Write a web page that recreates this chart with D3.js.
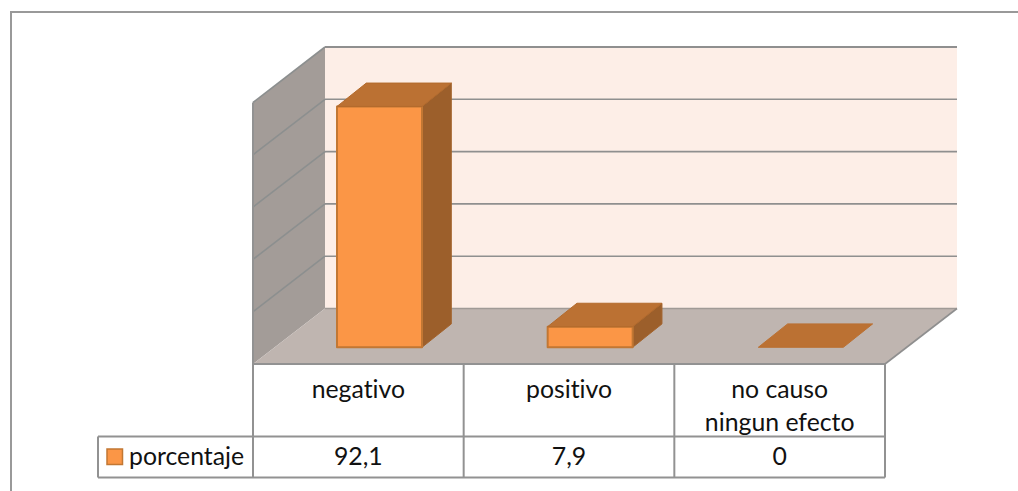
<!DOCTYPE html>
<html><head><meta charset="utf-8">
<script src="https://cdnjs.cloudflare.com/ajax/libs/d3/7.8.5/d3.min.js"></script>
<style>html,body{margin:0;background:#fff}svg{display:block}text{font-family:Lato,"Open Sans",sans-serif;font-size:24.8px;font-variant-ligatures:none;fill:#111}</style>
</head><body><div id="c"></div>
<script>
const categories = [["negativo"],["positivo"],["no causo","ningun efecto"]];
const seriesName = "porcentaje";
const values = [92.1,7.9,0];
const valueLabels = ["92,1","7,9","0"];
const yTicks = [0,20,40,60,80,100];

const W=1018,H=491;
const svg=d3.select("#c").append("svg").attr("width",W).attr("height",H);
const grey="#929292";
const depth={x:72,y:-55.5}, barDepth={x:29.3,y:-23.4};
const x=d3.scaleBand().domain(d3.range(categories.length)).range([253,885]).paddingInner(0).paddingOuter(0);
const y=d3.scaleLinear().domain([0,100]).range([364,102.5]);
const barInset=84, barW=85, barBase=16.7;
const pts=a=>a.map(p=>p.join(",")).join(" ");
const poly=(a,f,s,sw)=>svg.append("polygon").attr("points",pts(a)).attr("fill",f).attr("stroke",s||"none").attr("stroke-width",sw||0).attr("stroke-linejoin","round");
const line=(x1,y1,x2,y2,s,sw)=>svg.append("line").attr("x1",x1).attr("y1",y1).attr("x2",x2).attr("y2",y2).attr("stroke",s||grey).attr("stroke-width",sw||2);

// chart frame: only top and left edges show in the crop
svg.append("path").attr("d",`M11,${H} V12 H${W}`).attr("fill","none").attr("stroke","#999").attr("stroke-width",2);

const xL=253,xR=885,y0=y(0),yT=y(100);
poly([[xL+depth.x,yT+depth.y],[xR+depth.x,yT+depth.y],[xR+depth.x,y0+depth.y],[xL+depth.x,y0+depth.y]],"#fdeee7");
poly([[xL,yT],[xL+depth.x,yT+depth.y],[xL+depth.x,y0+depth.y],[xL,y0]],"#a39c98");
poly([[xL,y0],[xL+depth.x,y0+depth.y],[xR+depth.x,y0+depth.y],[xR,y0]],"#bfb5b0");
yTicks.forEach(t=>{
  const py=y(t);
  if(t>0) line(xL,py,xL+depth.x,py+depth.y,"#8c8f8f",1.6);
  line(xL+depth.x,py+depth.y,xR+depth.x,py+depth.y,t===0?"#a09a96":"#8f8f8f",t===100?2:1.6);
});
line(xL,yT,xL,y0,grey,2);
line(xR,y0,xR+depth.x,y0+depth.y,"#8f8f8f",1.6);

values.forEach((v,i)=>{
  const l=x(i)+barInset, r=l+barW, b=y0-barBase, t=b-(y0-y(v));
  const dx=barDepth.x,dy=barDepth.y, edge="#c27733";
  if(v>0){
    poly([[r,b],[r+dx,b+dy],[r+dx,t+dy],[r,t]],"#9c5f2b","#a4642d",1);
    poly([[l,b],[r,b],[r,t],[l,t]],"#fb9646",edge,2);
  }
  poly([[l,t],[r,t],[r+dx,t+dy],[l+dx,t+dy]],"#bb7133",v>0?"#b36a2c":"#bb7133",1);
});

const rows=[364,436.5,477.5];
const tbl=svg.append("g");
const tl=(a,b,c,d)=>tbl.append("line").attr("x1",a).attr("y1",b).attr("x2",c).attr("y2",d).attr("stroke",grey).attr("stroke-width",2);
tl(xL,rows[0],xR,rows[0]); tl(98,rows[1],xR,rows[1]); tl(98,rows[2],xR,rows[2]);
tl(98,rows[1],98,rows[2]);
x.domain().forEach(i=>tl(x(i),rows[0],x(i),rows[2]));
tl(xR,rows[0],xR,rows[2]);

categories.forEach((c,i)=>{
  const cx=x(i)+x.bandwidth()/2;
  c.forEach((s,j)=>tbl.append("text").attr("x",cx).attr("y",398+j*33).attr("text-anchor","middle").text(s));
  tbl.append("text").attr("x",cx).attr("y",465).attr("text-anchor","middle").text(valueLabels[i]);
});
tbl.append("rect").attr("x",107).attr("y",449).attr("width",15.5).attr("height",15.5).attr("fill","#fb9646").attr("stroke","#c27733").attr("stroke-width",1.5);
tbl.append("text").attr("x",129).attr("y",465).text(seriesName);
</script></body></html>
